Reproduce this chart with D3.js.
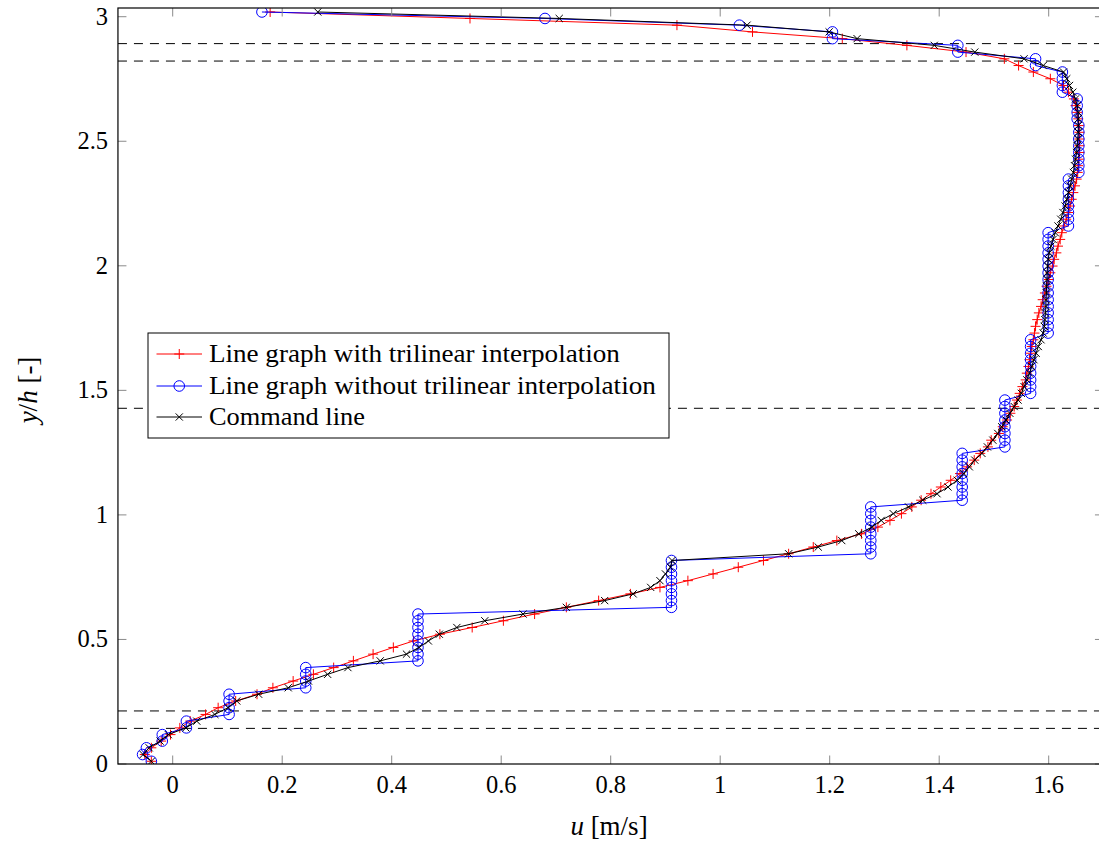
<!DOCTYPE html>
<html>
<head>
<meta charset="utf-8">
<script src="https://cdn.jsdelivr.net/npm/d3@7"></script>
<style>
  html, body { margin: 0; padding: 0; background: #fff; }
  svg { display: block; }
</style>
</head>
<body>
<svg id="chart" width="1099" height="845"></svg>
<script>
// Sampling heights y/h (shared by all three profiles)
const yPos = [
  0.011, 0.038, 0.065, 0.092, 0.118, 0.145, 0.172, 0.199, 0.226, 0.253,
  0.280, 0.306, 0.333, 0.360, 0.387, 0.414, 0.441, 0.468, 0.494, 0.521,
  0.548, 0.575, 0.602, 0.629, 0.656, 0.683, 0.709, 0.736, 0.763, 0.790,
  0.817, 0.844, 0.871, 0.897, 0.924, 0.951, 0.978, 1.005, 1.032, 1.059,
  1.085, 1.112, 1.139, 1.166, 1.193, 1.220, 1.247, 1.273, 1.300, 1.327,
  1.354, 1.381, 1.408, 1.435, 1.461, 1.488, 1.515, 1.542, 1.569, 1.596,
  1.623, 1.649, 1.676, 1.703, 1.730, 1.757, 1.784, 1.811, 1.837, 1.864,
  1.891, 1.918, 1.945, 1.972, 1.999, 2.026, 2.052, 2.079, 2.106, 2.133,
  2.160, 2.187, 2.214, 2.240, 2.267, 2.294, 2.321, 2.348, 2.375, 2.402,
  2.428, 2.455, 2.482, 2.509, 2.536, 2.563, 2.590, 2.616, 2.643, 2.670,
  2.697, 2.724, 2.751, 2.778, 2.804, 2.831, 2.858, 2.885, 2.912, 2.939,
  2.966, 2.993, 3.019
];

// u [m/s] — line graph with trilinear interpolation
const uTrilinear = [
  -0.039, -0.051, -0.039, -0.021, -0.004, 0.013, 0.032, 0.060, 0.083, 0.115,
  0.154, 0.183, 0.220, 0.257, 0.294, 0.330, 0.366, 0.403, 0.440, 0.488,
  0.547, 0.604, 0.661, 0.719, 0.778, 0.836, 0.890, 0.941, 0.987, 1.033,
  1.079, 1.125, 1.170, 1.213, 1.258, 1.288, 1.310, 1.331, 1.350, 1.367,
  1.385, 1.403, 1.421, 1.438, 1.451, 1.464, 1.475, 1.489, 1.495, 1.509,
  1.516, 1.524, 1.530, 1.537, 1.542, 1.547, 1.552, 1.558, 1.560, 1.563,
  1.565, 1.567, 1.569, 1.572, 1.574, 1.576, 1.579, 1.582, 1.586, 1.589,
  1.593, 1.596, 1.600, 1.603, 1.607, 1.610, 1.614, 1.617, 1.621, 1.624,
  1.628, 1.632, 1.636, 1.639, 1.642, 1.645, 1.648, 1.651, 1.653, 1.654,
  1.655, 1.656, 1.656, 1.656, 1.656, 1.655, 1.654, 1.652, 1.649, 1.646,
  1.636, 1.627, 1.603, 1.572, 1.545, 1.519, 1.449, 1.341, 1.223, 1.059,
  0.921, 0.543, 0.178
];

// u [m/s] — line graph without trilinear interpolation (cell values)
const uNearest = [
  -0.039, -0.055, -0.048, -0.019, -0.019, 0.025, 0.025, 0.103, 0.103, 0.103,
  0.103, 0.243, 0.243, 0.243, 0.243, 0.448, 0.448, 0.448, 0.448, 0.448,
  0.448, 0.448, 0.448, 0.911, 0.911, 0.911, 0.911, 0.911, 0.911, 0.911,
  0.911, 1.275, 1.275, 1.275, 1.275, 1.275, 1.275, 1.275, 1.275, 1.442,
  1.442, 1.442, 1.442, 1.442, 1.442, 1.442, 1.442, 1.520, 1.520, 1.520,
  1.520, 1.520, 1.520, 1.520, 1.520, 1.567, 1.567, 1.567, 1.567, 1.567,
  1.567, 1.567, 1.567, 1.567, 1.599, 1.599, 1.599, 1.599, 1.599, 1.599,
  1.599, 1.599, 1.599, 1.599, 1.599, 1.599, 1.599, 1.599, 1.599, 1.599,
  1.636, 1.636, 1.636, 1.636, 1.636, 1.636, 1.636, 1.636, 1.655, 1.655,
  1.655, 1.655, 1.655, 1.655, 1.655, 1.655, 1.652, 1.652, 1.652, 1.652,
  1.625, 1.625, 1.625, 1.625, 1.576, 1.576, 1.434, 1.434, 1.205, 1.205,
  1.035, 0.680, 0.163
];

// u [m/s] — command line
const uCommand = [
  -0.039, -0.054, -0.043, -0.023, -0.008, 0.024, 0.044, 0.077, 0.101, 0.117,
  0.157, 0.211, 0.248, 0.283, 0.320, 0.379, 0.427, 0.450, 0.467, 0.487,
  0.519, 0.570, 0.640, 0.719, 0.789, 0.841, 0.873, 0.890, 0.900, 0.909,
  0.912, 1.125, 1.179, 1.222, 1.253, 1.277, 1.294, 1.316, 1.344, 1.370,
  1.396, 1.416, 1.433, 1.445, 1.455, 1.465, 1.478, 1.488, 1.498, 1.507,
  1.514, 1.522, 1.529, 1.537, 1.544, 1.550, 1.555, 1.560, 1.565, 1.569,
  1.573, 1.577, 1.581, 1.586, 1.590, 1.592, 1.593, 1.594, 1.595, 1.595,
  1.596, 1.596, 1.597, 1.597, 1.598, 1.599, 1.601, 1.604, 1.608, 1.612,
  1.617, 1.622, 1.626, 1.630, 1.633, 1.636, 1.639, 1.642, 1.645, 1.647,
  1.649, 1.651, 1.652, 1.653, 1.654, 1.654, 1.654, 1.654, 1.652, 1.649,
  1.644, 1.638, 1.633, 1.627, 1.590, 1.555, 1.465, 1.391, 1.250, 1.199,
  1.049, 0.706, 0.265
];

// Horizontal reference heights (dashed)
const refHeights = [0.143, 0.213, 1.428, 2.822, 2.892];

const xTicks = [0, 0.2, 0.4, 0.6, 0.8, 1, 1.2, 1.4, 1.6];
const yTicks = [0, 0.5, 1, 1.5, 2, 2.5, 3];

const seriesNames = [
  "Line graph with trilinear interpolation",
  "Line graph without trilinear interpolation",
  "Command line"
];

const FONT = "'Liberation Serif', 'Tinos', 'Times New Roman', 'Nimbus Roman', 'DejaVu Serif', 'Noto Serif', serif";

// ---- layout ----
const svg = d3.select("#chart").attr("font-family", FONT);
const W = 1099, H = 845;
svg.append("rect").attr("width", W).attr("height", H).attr("fill", "#fff");

const xDomain = [-0.1, 1.7];
const yDomain = [0, 3.035];
const x = d3.scaleLinear().domain(xDomain).range([117.95, 1103.45]);
const y = d3.scaleLinear().domain(yDomain).range([764, 8]);

const L = x(xDomain[0]), R = x(xDomain[1]), T = y(yDomain[1]), B = y(yDomain[0]);

svg.append("clipPath").attr("id", "plotClip")
  .append("rect").attr("x", L).attr("y", T).attr("width", R - L).attr("height", B - T);

const plot = svg.append("g").attr("clip-path", "url(#plotClip)");

// dashed reference lines
plot.selectAll("line.ref").data(refHeights).enter().append("line")
  .attr("class", "ref")
  .attr("x1", L).attr("x2", R)
  .attr("y1", d => y(d)).attr("y2", d => y(d))
  .attr("stroke", "#000").attr("stroke-width", 1)
  .attr("stroke-dasharray", "9,7");

const tickLen = 8.5;
const tickColor = "#8a8a8a";

// x ticks (bottom and top, inward)
const gx = svg.append("g");
xTicks.forEach(t => {
  gx.append("line").attr("x1", x(t)).attr("x2", x(t)).attr("y1", B).attr("y2", B - tickLen)
    .attr("stroke", tickColor).attr("stroke-width", 1);
  gx.append("line").attr("x1", x(t)).attr("x2", x(t)).attr("y1", T).attr("y2", T + tickLen)
    .attr("stroke", tickColor).attr("stroke-width", 1);
});
// y ticks (left and right, inward)
yTicks.forEach(t => {
  gx.append("line").attr("x1", L).attr("x2", L + tickLen).attr("y1", y(t)).attr("y2", y(t))
    .attr("stroke", tickColor).attr("stroke-width", 1);
  gx.append("line").attr("x1", R).attr("x2", R - tickLen).attr("y1", y(t)).attr("y2", y(t))
    .attr("stroke", tickColor).attr("stroke-width", 1);
});

// series
const makeData = u => u.map((v, i) => ({ u: v, y: yPos[i] }));
const line = d3.line().x(d => x(d.u)).y(d => y(d.y));

const series = [
  { name: seriesNames[0], data: makeData(uTrilinear), color: "#ff0000", mark: "plus" },
  { name: seriesNames[1], data: makeData(uNearest),   color: "#0000ff", mark: "circle" },
  { name: seriesNames[2], data: makeData(uCommand),   color: "#000000", mark: "cross" }
];

function drawMark(g, kind, color) {
  if (kind === "plus") {
    g.append("path").attr("d", "M-5,0H5M0,-5V5")
      .attr("stroke", color).attr("stroke-width", 1).attr("fill", "none");
  } else if (kind === "circle") {
    g.append("circle").attr("r", 5.3)
      .attr("stroke", color).attr("stroke-width", 1).attr("fill", "none");
  } else {
    g.append("path").attr("d", "M-3.6,-3.6L3.6,3.6M-3.6,3.6L3.6,-3.6")
      .attr("stroke", color).attr("stroke-width", 1).attr("fill", "none");
  }
}

series.forEach(s => {
  const g = plot.append("g");
  g.append("path").datum(s.data).attr("d", line)
    .attr("fill", "none").attr("stroke", s.color).attr("stroke-width", 1)
    .attr("stroke-linejoin", "round");
  g.selectAll("g.mk").data(s.data).enter().append("g")
    .attr("class", "mk")
    .attr("transform", d => `translate(${x(d.u)},${y(d.y)})`)
    .each(function () { drawMark(d3.select(this), s.mark, s.color); });
});

// axis frame
svg.append("rect").attr("x", L).attr("y", T).attr("width", R - L).attr("height", B - T)
  .attr("fill", "none").attr("stroke", "#000").attr("stroke-width", 1.2);

// tick labels
const fs = 24.5;
svg.append("g").selectAll("text").data(xTicks).enter().append("text")
  .attr("x", d => x(d)).attr("y", 793)
  .attr("text-anchor", "middle").attr("font-size", fs)
  .text(d => d3.format("")(d));
svg.append("g").selectAll("text").data(yTicks).enter().append("text")
  .attr("x", 108).attr("y", d => y(d) + 8)
  .attr("text-anchor", "end").attr("font-size", fs)
  .text(d => d3.format("")(d));

// axis labels
const xl = svg.append("text").attr("x", 609).attr("y", 835)
  .attr("text-anchor", "middle").attr("font-size", 27);
xl.append("tspan").attr("font-style", "italic").text("u");
xl.append("tspan").text(" [m/s]");

const yl = svg.append("text")
  .attr("transform", "translate(37,390) rotate(-90)")
  .attr("text-anchor", "middle").attr("font-size", 27);
yl.append("tspan").attr("font-style", "italic").text("y");
yl.append("tspan").text("/");
yl.append("tspan").attr("font-style", "italic").text("h");
yl.append("tspan").text(" [-]");

// legend
const lg = svg.append("g");
lg.append("rect").attr("x", 148).attr("y", 333).attr("width", 521).attr("height", 105)
  .attr("fill", "#fff").attr("stroke", "#000").attr("stroke-width", 1);
const rowY = [354, 386, 417];
const textLen = [411, 447, 156];
series.forEach((s, i) => {
  const ry = rowY[i];
  lg.append("line").attr("x1", 156.5).attr("x2", 202).attr("y1", ry).attr("y2", ry)
    .attr("stroke", s.color).attr("stroke-width", 1);
  const mg = lg.append("g").attr("transform", `translate(179.25,${ry})`);
  drawMark(mg, s.mark, s.color);
  lg.append("text").attr("x", 208.9).attr("y", ry + 7.5)
    .attr("font-size", fs)
    .attr("textLength", textLen[i]).attr("lengthAdjust", "spacingAndGlyphs")
    .text(s.name);
});
</script>
</body>
</html>
